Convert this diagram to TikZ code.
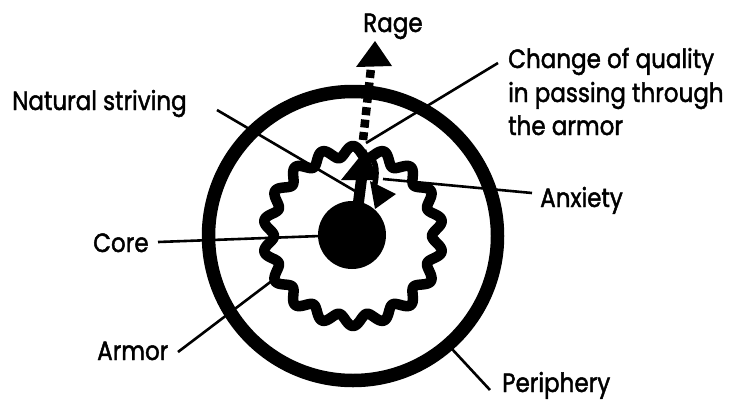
\documentclass[tikz,border=0pt]{standalone}
\usepackage{fontspec}
\newfontfamily\lblfont[FakeBold=1.8]{Poppins}
\begin{document}
\begin{tikzpicture}[x=1pt,y=-1pt,
  lbl/.style={anchor=base west,inner sep=0pt,font=\lblfont\fontsize{24}{34}\selectfont},
  leader/.style={line width=2.6pt},
  heavy/.style={fill=black,draw=none}]
\useasboundingbox (0,0) rectangle (729,405);
\newcommand\tl[1]{\scalebox{0.96}[1.1]{#1}}
% centres
\coordinate (c) at (353,236);
% periphery
\draw[line width=13.5pt] (c) circle[radius=144.5pt];
% armor (wavy ring)
\draw[line width=10.5pt,line join=round]
  plot[domain=0:360,samples=721,smooth,variable=\t]
  ({353+(84.5-5.5*cos(18*\t))*cos(\t)},{236+(84.5-5.5*cos(18*\t))*sin(\t)}) -- cycle;
% core
\fill (352,235) circle[radius=34pt];
% rage arrow
\coordinate (rageS) at (363,140);
\coordinate (rageE) at (371,68);
\draw[line width=8.5pt,dash pattern=on 8pt off 4.5pt] (rageS) -- (rageE);
\fill (375,41) -- (356,67) -- (392,66) -- cycle;
% natural striving arrow
\coordinate (nsS) at (358,206);
\coordinate (nsE) at (362,175);
\draw[line width=11pt] (nsS) -- (nsE);
\fill (366,149) -- (341,180) -- (378,180) -- cycle;
% anxiety arrow
\coordinate (axS) at (368,155);
\coordinate (axE) at (374,188);
\draw[line width=5.5pt] (axS) .. controls (378,161) and (377,175) .. (axE);
\fill (370,181) -- (396,194) -- (375,209) -- cycle;
% labels
\node[lbl] (rage) at (363,32) {\tl{Rage}};
\node[lbl] (natural) at (12,110) {\tl{Natural striving}};
\node[lbl] (ch1) at (508,68) {\tl{Change of quality}};
\node[lbl] (ch2) at (508,102) {\tl{in passing through}};
\node[lbl] (ch3) at (508,135) {\tl{the armor}};
\node[lbl] (anx) at (540,207) {\tl{Anxiety}};
\node[lbl] (core) at (93,252) {\tl{Core}};
\node[lbl] (armor) at (97,360) {\tl{Armor}};
\node[lbl] (peri) at (502,392) {\tl{Periphery}};
% leader end points
\coordinate (natA) at (217,110);
\coordinate (natB) at (355,191);
\coordinate (chA) at (498,63);
\coordinate (chB) at (366,143);
\coordinate (anxA) at (532,193);
\coordinate (anxB) at (383,179);
\coordinate (coreA) at (158,242);
\coordinate (coreB) at (320,236);
\coordinate (armA) at (178,352);
\coordinate (armB) at (273,280);
\coordinate (periA) at (490,390);
\coordinate (periB) at (452,349);
\draw[leader] (natA) -- (natB);
\draw[leader] (chA) -- (chB);
\draw[leader] (anxA) -- (anxB);
\draw[leader] (coreA) -- (coreB);
\draw[leader] (armA) -- (armB);
\draw[leader] (periA) -- (periB);
\end{tikzpicture}
\end{document}
